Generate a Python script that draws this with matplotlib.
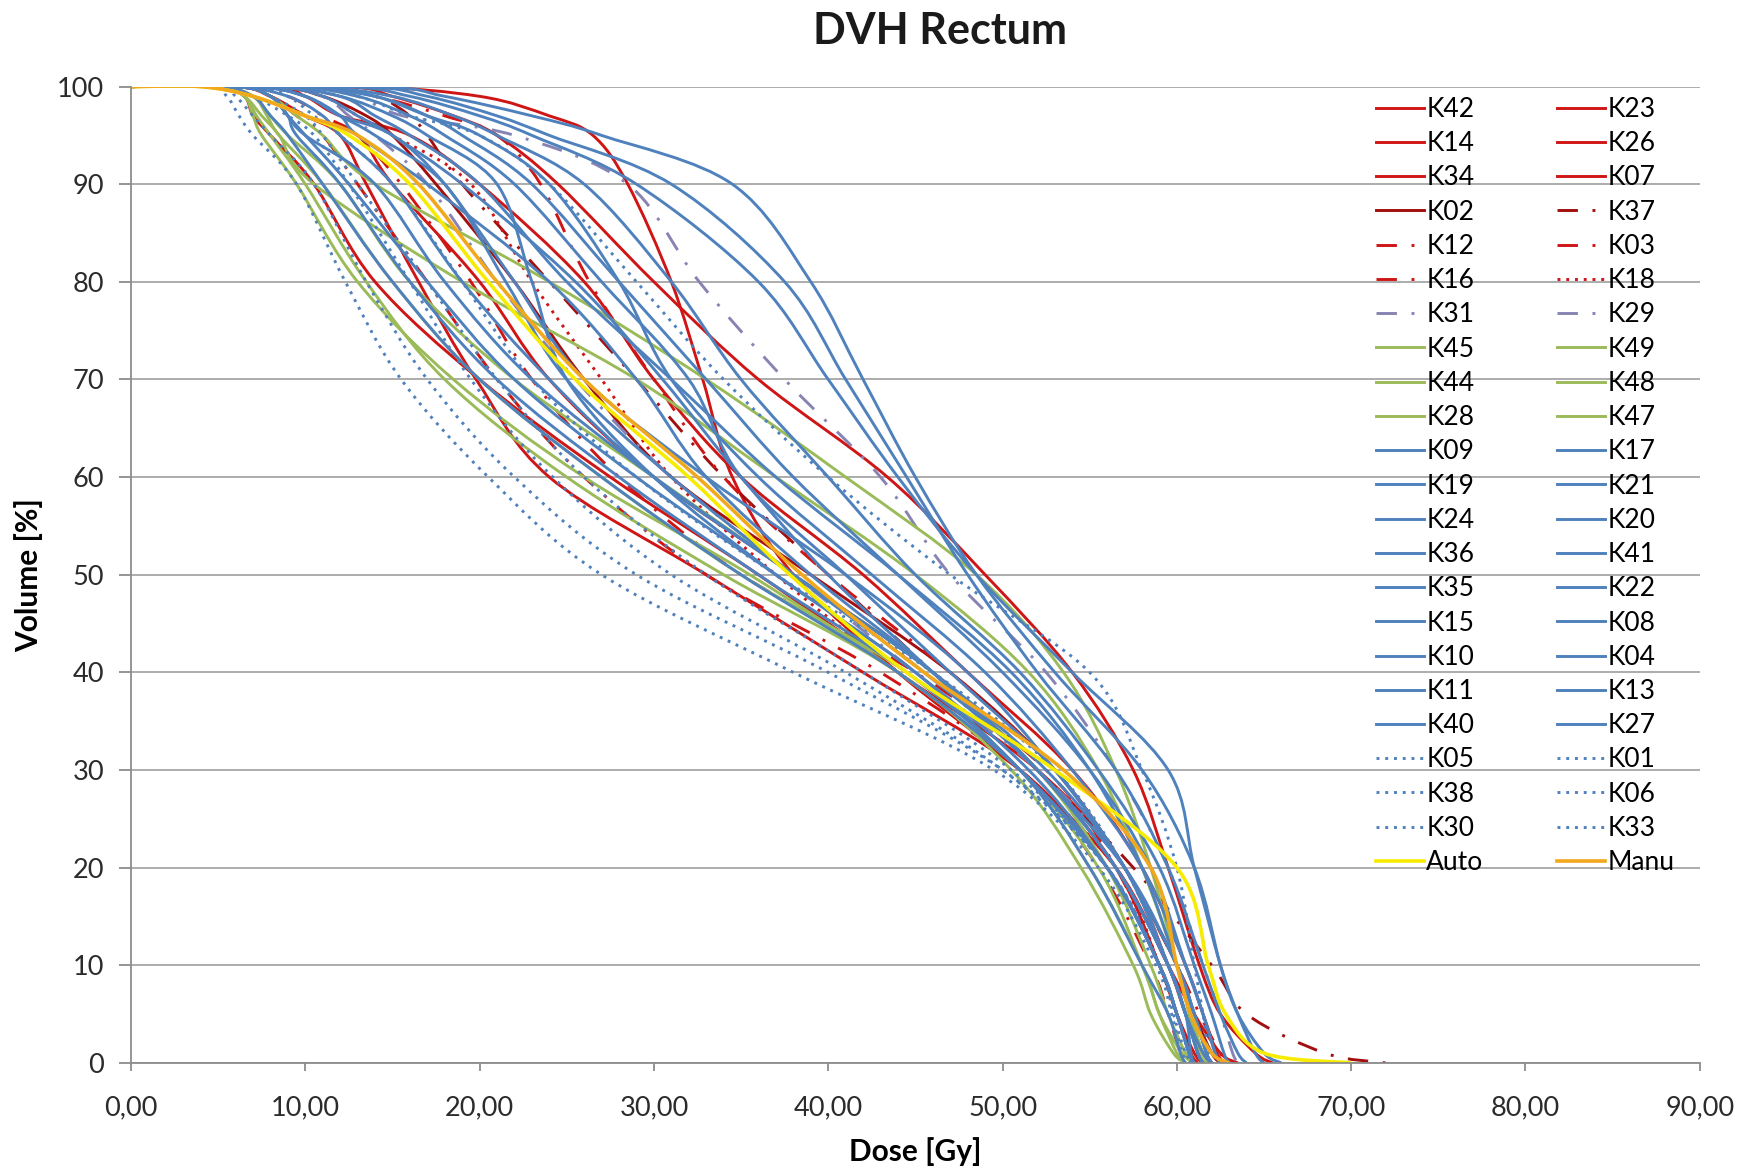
import matplotlib.pyplot as plt
from matplotlib.ticker import FuncFormatter
from matplotlib.path import Path
from matplotlib.patches import PathPatch
from matplotlib.lines import Line2D

# volume levels [%] shared by all curves; each curve lists the dose [Gy]
# at which it reaches that level (curve is 100 % from 0 Gy up to first dose)
volume = [100, 99, 97, 95, 90, 80, 70, 60, 50, 40, 30, 20, 10, 5, 1, 0]

red_solid = {
    'K42': [13, 20, 24, 26.5, 28.5, 31, 32.8, 34.5, 38, 44, 51, 56.5, 59.5, 61, 62.5, 63.5],
    'K23': [12, 15, 18.5, 21, 24.5, 30, 36, 43.4, 49, 54, 57.5, 59.5, 61.3, 62.5, 64.5, 65.5],
    'K14': [5, 6.5, 7, 8, 10.5, 14, 20, 27.5, 36, 44, 52, 57, 59.5, 60.5, 61.5, 62],
    'K26': [6, 8, 10, 12, 13.5, 16.5, 19.8, 24, 33, 42, 51, 56, 59, 60, 60.8, 61.2],
    'K34': [8, 10, 12, 16, 20, 26, 30, 35, 42, 48, 54, 58, 60.5, 61.5, 62.3, 62.8],
    'K07': [6, 8, 10, 13, 15, 20, 24, 30, 38, 46, 52, 56.5, 59, 60, 61, 61.5],
    'K02': [8, 11, 13.5, 15, 17.5, 22, 26, 31, 39, 47, 53, 57, 60, 61, 62, 62.5],
}
red_dashdot = {
    'K37': [10, 14, 16, 17, 19, 24, 29, 34, 40, 46, 52, 57.5, 62, 64, 68.5, 72],
    'K12': [6, 9, 11, 13, 15.5, 19.5, 23, 28, 35, 45, 52.5, 56.5, 59, 60, 60.7, 61],
    'K03': [10, 14, 18, 21, 23.5, 26.3, 30, 34, 40, 47, 53, 57, 60, 61.3, 62.5, 63],
    'K16': [6, 8, 9.5, 11, 13, 17, 21, 26, 33, 43, 51, 55.5, 58.5, 59.5, 60.2, 60.5],
}
red_dotted = {
    'K18': [8, 11, 13, 15, 19.5, 23, 27, 31, 37, 44, 51, 56.5, 59, 60, 60.8, 61.2],
}
purple_dashdot = {
    'K31': [10, 13, 15.6, 22, 28.5, 32.6, 37.5, 43, 47, 52.5, 56.5, 59.5, 61.5, 62.5, 63.2, 63.5],
    'K29': [8, 11, 12.5, 14, 17, 21, 25.5, 31, 38, 45, 52, 57, 59.5, 60.5, 61.2, 61.5],
}
green_solid = {
    'K45': [5, 6.5, 7.2, 8, 10, 13.5, 18, 25, 34, 44, 50.5, 54.5, 57.5, 58.5, 59.8, 60.5],
    'K49': [5, 7, 7.8, 8.5, 11, 15, 20, 27, 35, 44.5, 51, 55, 58, 59, 60.3, 61],
    'K44': [5, 6.5, 7.5, 8.5, 10.5, 19, 29, 37, 45, 51.5, 55.5, 58, 60, 60.8, 61.5, 62],
    'K48': [6, 8, 9.5, 11, 14, 24, 33, 41, 48.5, 53.5, 56.5, 58.5, 60, 60.7, 61.3, 61.7],
    'K28': [5, 7, 8, 9, 12, 16, 22, 30, 38, 46, 52, 56, 58.5, 59.5, 60.5, 61],
    'K47': [5, 6.5, 7, 7.5, 9.5, 13, 18.5, 26, 35.5, 44, 51, 55.5, 58, 59, 60, 60.5],
}
blue_solid = {
    'K09': [14, 18, 23, 27, 34.5, 39, 42, 45, 48.5, 53, 58, 61, 62.5, 63.5, 65, 66],
    'K17': [13, 17, 21, 24, 31, 37.5, 41, 44.5, 48, 52, 56.5, 59.5, 61.5, 62.5, 63.5, 64],
    'K19': [12, 16, 20, 23, 29, 36, 40, 44, 48.5, 54, 59.5, 61, 62.5, 63.5, 64.5, 65],
    'K21': [10, 15, 18.5, 21, 26, 31, 35, 40, 45, 51, 55.5, 59, 61, 62, 62.7, 63],
    'K24': [9, 14, 17, 19, 23, 28, 33, 38, 44, 50, 55, 58.5, 60.5, 61.5, 62.2, 62.5],
    'K20': [8, 12, 14, 16, 20, 25, 31, 37, 44, 50.5, 55, 58, 60, 61, 61.7, 62],
    'K36': [7, 10, 12, 15, 18, 22, 26, 33, 41, 48, 53, 57, 59.5, 60.5, 61.2, 61.5],
    'K41': [6, 9, 11, 12, 15, 19, 24, 30, 38, 46, 52, 56.5, 59.5, 60.5, 61.2, 61.5],
    'K35': [6, 8, 9, 10, 12.5, 17, 22, 29, 37, 45, 51.5, 56, 59, 60, 60.7, 61],
    'K22': [5, 7, 8, 9, 11, 15, 20, 27, 35, 44, 51, 56, 59, 60, 60.7, 61],
    'K15': [7, 10, 12, 13, 17, 24, 29, 33, 39, 46, 52, 56.5, 59.5, 60.5, 61.5, 62],
    'K08': [8, 12, 15, 17, 21, 23, 25, 30, 37, 45, 51, 56, 59, 60, 60.7, 61],
    'K10': [9, 13, 16, 18, 22, 27, 32, 35, 41, 47, 53, 57, 60, 61, 61.7, 62],
    'K04': [7, 10, 12, 14, 18, 21.5, 25, 31, 38, 45.5, 52, 56.5, 59.5, 60.5, 61.2, 61.5],
    'K11': [6, 8, 9, 9.5, 12, 16, 21, 28, 36, 44.5, 51, 55, 58, 59.5, 60.2, 60.5],
    'K13': [10, 14, 17, 20, 24, 28, 31, 36, 42.5, 49, 54, 58, 60.5, 61.5, 62.2, 62.5],
    'K40': [8, 11, 13, 15, 19, 25.5, 30.5, 35, 40, 46, 52, 57, 60, 61, 61.7, 62],
    'K27': [6, 8, 9, 10, 14, 18, 23, 30, 38, 46, 52.5, 57, 59.5, 60.5, 60.8, 61],
}
blue_dotted = {
    'K05': [4.5, 5.5, 6.2, 7, 9.5, 12.3, 15.5, 20.5, 27, 38, 49.5, 55.5, 58.8, 59.7, 60.3, 60.8],
    'K01': [5, 6, 7, 8, 10.5, 13.5, 17, 22, 29, 40, 50, 56, 59, 59.8, 60.5, 61],
    'K38': [5, 7, 9, 10.5, 12.5, 16, 19.5, 24.2, 31, 41, 50, 56, 59, 60, 60.7, 61],
    'K06': [6, 8, 10, 11, 13, 17, 21, 26, 33, 42, 50.5, 56, 59, 60, 60.7, 61],
    'K30': [7, 9, 10.5, 12, 15, 19, 23, 29, 37, 46, 53, 57, 59.5, 60.5, 61.2, 61.5],
    'K33': [9, 13, 16, 20, 24, 29, 34, 40, 47, 55, 58, 60, 61, 61.5, 61.8, 62],
}
plans = {
    'Auto': [4, 7, 10, 12.5, 16, 20.5, 25.5, 32, 37.8, 44.5, 53, 60, 61.8, 62.8, 65, 70],
    'Manu': [4, 7, 10, 13, 16.5, 21, 26, 32.5, 38.5, 45.5, 53.5, 58.5, 60, 60.8, 62, 63],
}

# legend order as read row by row in the original
legend_rows = ['K42', 'K23', 'K14', 'K26', 'K34', 'K07', 'K02', 'K37', 'K12', 'K03',
               'K16', 'K18', 'K31', 'K29', 'K45', 'K49', 'K44', 'K48', 'K28', 'K47',
               'K09', 'K17', 'K19', 'K21', 'K24', 'K20', 'K36', 'K41', 'K35', 'K22',
               'K15', 'K08', 'K10', 'K04', 'K11', 'K13', 'K40', 'K27', 'K05', 'K01',
               'K38', 'K06', 'K30', 'K33', 'Auto', 'Manu']

RED = '#CF1515'
DARKRED = '#A30F0F'
PURPLE = '#8784B3'
GREEN = '#9BBB59'
BLUE = '#4F81BD'
DASHDOT = (0, (7, 5, 1, 5))
DOTTED = (0, (1, 2.0))

styles = {}
for k in red_solid:
    styles[k] = (DARKRED if k == 'K02' else RED, '-')
for k in red_dashdot:
    styles[k] = (DARKRED if k == 'K37' else RED, DASHDOT)
for k in red_dotted:
    styles[k] = (RED, DOTTED)
for k in purple_dashdot:
    styles[k] = (PURPLE, DASHDOT)
for k in green_solid:
    styles[k] = (GREEN, '-')
for k in blue_solid:
    styles[k] = (BLUE, '-')
for k in blue_dotted:
    styles[k] = (BLUE, DOTTED)
styles['Auto'] = ('#F7EC00', '-')
styles['Manu'] = ('#F2A81D', '-')

doses = {}
for group in [red_solid, red_dashdot, red_dotted, purple_dashdot,
              green_solid, blue_solid, blue_dotted, plans]:
    doses.update(group)


def smooth_path(xs, ys):
    """Smoothed line through the points (Catmull-Rom as cubic Bezier, like Excel)"""
    pts = list(zip(xs, ys))
    n = len(pts)
    verts = [pts[0]]
    codes = [Path.MOVETO]
    for i in range(n - 1):
        p0 = pts[i - 1] if i > 0 else pts[i]
        p1, p2 = pts[i], pts[i + 1]
        p3 = pts[i + 2] if i + 2 < n else pts[i + 1]
        c1 = (p1[0] + (p2[0] - p0[0]) / 6, p1[1] + (p2[1] - p0[1]) / 6)
        c2 = (p2[0] - (p3[0] - p1[0]) / 6, p2[1] - (p3[1] - p1[1]) / 6)
        verts += [c1, c2, p2]
        codes += [Path.CURVE4] * 3
    return Path(verts, codes)


plt.rcParams['font.family'] = ['Lato', 'DejaVu Sans']

fig = plt.figure(figsize=(17.54, 11.70), dpi=100)
ax = fig.add_axes([0.0747, 0.0915, 0.8944, 0.8345])

handles = {}
for i, name in enumerate(legend_rows):
    color, ls = styles[name]
    lw = 2.6 if name in plans else 2.1
    patch = PathPatch(smooth_path([0] + doses[name], [100] + volume), fill=False,
                      edgecolor=color, linestyle=ls, linewidth=lw,
                      joinstyle='round', zorder=2 + i * 0.01)
    ax.add_patch(patch)
    handles[name] = Line2D([], [], color=color, linestyle=ls, linewidth=lw)

ax.set_xlim(0, 90)
ax.set_ylim(0, 100)
ax.set_xticks(range(0, 91, 10))
ax.set_yticks(range(0, 101, 10))
ax.xaxis.set_major_formatter(FuncFormatter(lambda v, p: f'{v:.2f}'.replace('.', ',')))
ax.grid(axis='y', color='#A6A6A6', linewidth=1.3)
ax.set_axisbelow(True)
for s in ['top', 'right']:
    ax.spines[s].set_visible(False)
for s in ['left', 'bottom']:
    ax.spines[s].set_color('#8C8C8C')
    ax.spines[s].set_linewidth(1.3)
ax.tick_params(axis='both', colors='#8C8C8C', width=1.3, labelsize=19.5,
               labelcolor='#2B2B2B')
ax.tick_params(axis='y', length=8.5, pad=11)
ax.tick_params(axis='x', length=6, pad=17.5)

ax.set_xlabel('Dose [Gy]', fontsize=21.5, fontweight='bold', labelpad=12)
ax.set_ylabel('Volume [%]', fontsize=21.5, fontweight='bold', labelpad=10)
fig.text(0.536, 0.9736, 'DVH Rectum', ha='center', va='center', fontsize=31,
         fontweight='bold', color='#1A1A1A')

# matplotlib fills legend columns first, so split row order into two columns
order = legend_rows[0::2] + legend_rows[1::2]
ax.legend([handles[n] for n in order], order, ncol=2, frameon=False,
          loc='upper left', bbox_to_anchor=(1376 / 1754, 1 - 97 / 1170),
          bbox_transform=fig.transFigure, borderaxespad=0, borderpad=0,
          fontsize=19, handlelength=1.8, handletextpad=0.1, labelspacing=0.35,
          columnspacing=2.8)

plt.savefig('out.png', dpi=100)
